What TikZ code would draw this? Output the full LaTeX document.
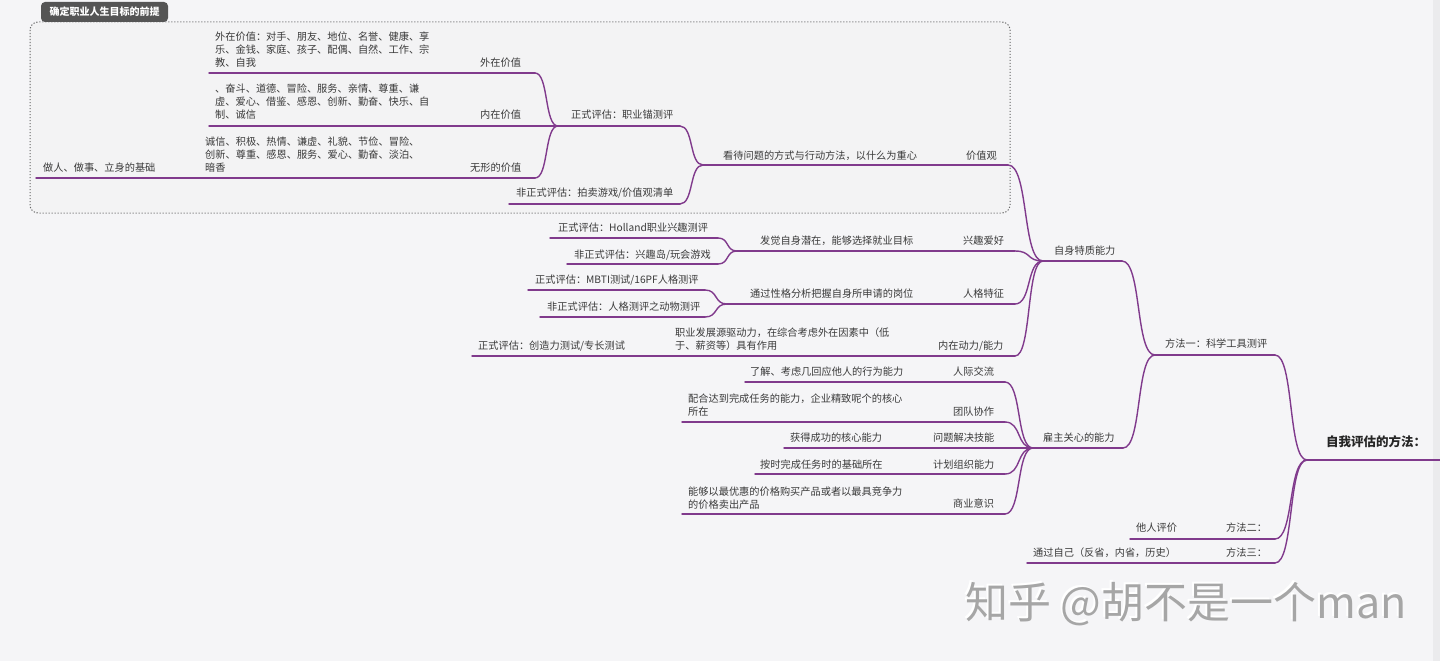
\documentclass[tikz,border=0pt]{standalone}
\usepackage{fontspec}
\setmainfont{Noto Sans CJK SC}
\usetikzlibrary{calc}
\definecolor{bg}{HTML}{F5F5F7}
\definecolor{edge}{HTML}{EBEBED}
\definecolor{ln}{RGB}{128,58,140}
\definecolor{tx}{HTML}{3A3A3A}
\definecolor{boxbg}{HTML}{F3F3F4}
\definecolor{boxln}{HTML}{666666}
\definecolor{tabc}{HTML}{555555}
\definecolor{wm}{HTML}{A6A6A6}
\tikzset{
  br/.style={draw=ln, line width=1.4pt, line cap=round},
  txt/.style={anchor=west, inner sep=0pt, text=tx, font=\fontsize{10.2}{13}\selectfont, align=left},
  roottxt/.style={anchor=west, inner sep=0pt, text=black!85, font=\fontsize{12.5}{15}\selectfont\bfseries},
}
\newcommand\link[2]{\draw[br] let \p1=(#1), \p2=(#2), \n1={0.6*(\x2-\x1)} in (\p1) .. controls +(\n1,0) and +(-\n1,0) .. (\p2);}
\begin{document}
\begin{tikzpicture}[x=1pt,y=-1pt]
\useasboundingbox (0,0) rectangle (1440,661);
\fill[bg] (0,0) rectangle (1440,661);
\fill[edge] (1433,0) rectangle (1440,661);

% group box
\draw[boxln, fill=boxbg, line width=1pt, dash pattern=on 1.2pt off 1.8pt, rounded corners=8pt] (30,22) rectangle (1010,213);
\fill[tabc, rounded corners=4pt] (41,22) -- (41,2) -- (168,2) -- (168,22) -- cycle;
\node[inner sep=0pt, text=white, font=\fontsize{10}{12}\selectfont\bfseries] (tab) at (104.5,11.5) {确定职业人生目标的前提};

% coordinates
\coordinate (root-l) at (1307,460); \coordinate (root-r) at (1440,460);
\coordinate (m1-l) at (1155,355); \coordinate (m1-r) at (1275,355);
\coordinate (m2-l) at (1130,539); \coordinate (m2-r) at (1275,539);
\coordinate (m3-l) at (1027,563); \coordinate (m3-r) at (1275,563);
\coordinate (a-l) at (1043,261); \coordinate (a-r) at (1122,261);
\coordinate (b-l) at (1033,448); \coordinate (b-r) at (1123,448);
\coordinate (jz-l) at (703,165); \coordinate (jz-r) at (1008,165);
\coordinate (f1-l) at (558,126); \coordinate (f1-r) at (680,126);
\coordinate (f2-l) at (509,204); \coordinate (f2-r) at (680,204);
\coordinate (w1-l) at (209,73); \coordinate (w1-r) at (535,73);
\coordinate (w2-l) at (209,126);
\coordinate (w3-l) at (36,178); \coordinate (w3-r) at (535,178);
\coordinate (xq-l) at (737,251); \coordinate (xq-r) at (1015,251);
\coordinate (h1-l) at (550,238); \coordinate (h1-r) at (718,238);
\coordinate (h2-l) at (567,264); \coordinate (h2-r) at (718,264);
\coordinate (rg-l) at (727,304); \coordinate (rg-r) at (1015,304);
\coordinate (p1-l) at (528,290); \coordinate (p1-r) at (705,290);
\coordinate (p2-l) at (540,317); \coordinate (p2-r) at (705,317);
\coordinate (nz-l) at (472,356); \coordinate (nz-r) at (1015,356);
\coordinate (rj-l) at (745,382); \coordinate (rj-r) at (1005,382);
\coordinate (td-l) at (682,422); \coordinate (td-r) at (1005,422);
\coordinate (wt-l) at (784,448);
\coordinate (jh-l) at (755,474); \coordinate (jh-r) at (1005,474);
\coordinate (sy-l) at (682,514); \coordinate (sy-r) at (1005,514);

% underlines
\foreach \n in {root,m1,m2,m3,a,b,jz,f1,f2,w1,w3,xq,h1,h2,rg,p1,p2,nz,rj,td,jh,sy}
  \draw[br] (\n-l) -- (\n-r);
\draw[br] (w2-l) -- (f1-l);
\draw[br] (wt-l) -- (b-l);

% connectors
\link{m1-r}{root-l}
\link{m2-r}{root-l}
\link{m3-r}{root-l}
\link{a-r}{m1-l}
\link{b-r}{m1-l}
\link{jz-r}{a-l}
\link{xq-r}{a-l}
\link{rg-r}{a-l}
\link{nz-r}{a-l}
\link{f1-r}{jz-l}
\link{f2-r}{jz-l}
\link{w1-r}{f1-l}
\link{w3-r}{f1-l}
\link{h1-r}{xq-l}
\link{h2-r}{xq-l}
\link{p1-r}{rg-l}
\link{p2-r}{rg-l}
\link{rj-r}{b-l}
\link{td-r}{b-l}
\link{jh-r}{b-l}
\link{sy-r}{b-l}

% texts
\node[roottxt] (root) at (1326,442) {自我评估的方法：};
\node[txt] (m1) at (1165,344) {方法一：科学工具测评};
\node[txt] (m2) at (1226,528) {方法二：};
\node[txt] (m2c) at (1136,528) {他人评价};
\node[txt] (m3) at (1226,553) {方法三：};
\node[txt] (m3c) at (1033,553) {通过自己（反省，内省，历史）};
\node[txt] (a) at (1054,251) {自身特质能力};
\node[txt] (b) at (1043,438) {雇主关心的能力};

\node[txt] (jz) at (966,156) {价值观};
\node[txt] (jzc) at (723,156) {看待问题的方式与行动方法，以什么为重心};
\node[txt] (f1) at (571,115) {正式评估：职业锚测评};
\node[txt] (f2) at (516,193) {非正式评估：拍卖游戏/价值观清单};
\node[txt] (w1) at (480,63) {外在价值};
\node[txt] (w1c) at (215,50) {外在价值：对手、朋友、地位、名誉、健康、享\\乐、金钱、家庭、孩子、配偶、自然、工作、宗\\教、自我};
\node[txt] (w2) at (480,115) {内在价值};
\node[txt] (w2c) at (215,102) {、奋斗、道德、冒险、服务、亲情、尊重、谦\\虚、爱心、借鉴、感恩、创新、勤奋、快乐、自\\制、诚信};
\node[txt] (w3) at (470,168) {无形的价值};
\node[txt] (w3c) at (205,155) {诚信、积极、热情、谦虚、礼貌、节俭、冒险、\\创新、尊重、感恩、服务、爱心、勤奋、淡泊、\\暗香};
\node[txt] (w3d) at (43,168) {做人、做事、立身的基础};

\node[txt] (xq) at (963,241) {兴趣爱好};
\node[txt] (xqc) at (760,241) {发觉自身潜在，能够选择就业目标};
\node[txt] (h1) at (558,228) {正式评估：Holland职业兴趣测评};
\node[txt] (h2) at (574,255) {非正式评估：兴趣岛/玩会游戏};
\node[txt] (rg) at (963,294) {人格特征};
\node[txt] (rgc) at (750,294) {通过性格分析把握自身所申请的岗位};
\node[txt] (p1) at (535,280) {正式评估：MBTI测试/16PF人格测评};
\node[txt] (p2) at (547,307) {非正式评估：人格测评之动物测评};
\node[txt] (nz) at (938,346) {内在动力/能力};
\node[txt] (nzc) at (675,339.5) {职业发展源驱动力，在综合考虑外在因素中（低\\于、薪资等）具有作用};
\node[txt] (nzd) at (478,346) {正式评估：创造力测试/专长测试};

\node[txt] (rj) at (953,372) {人际交流};
\node[txt] (rjc) at (750,372) {了解、考虑几回应他人的行为能力};
\node[txt] (td) at (953,412) {团队协作};
\node[txt] (tdc) at (688,405.5) {配合达到完成任务的能力，企业精致呢个的核心\\所在};
\node[txt] (wt) at (933,438) {问题解决技能};
\node[txt] (wtc) at (790,438) {获得成功的核心能力};
\node[txt] (jh) at (933,465) {计划组织能力};
\node[txt] (jhc) at (760,465) {按时完成任务时的基础所在};
\node[txt] (sy) at (953,504) {商业意识};
\node[txt] (syc) at (688,498) {能够以最优惠的价格购买产品或者以最具竞争力\\的价格卖出产品};

% watermark
\node[anchor=west, inner sep=0pt, text=white, font=\fontsize{43}{48}\selectfont] (wmshadow) at (963,602.5) {知乎 @胡不是一个man};
\node[anchor=west, inner sep=0pt, text=wm, font=\fontsize{43}{48}\selectfont] (wmark) at (965,604) {知乎 @胡不是一个man};
\end{tikzpicture}
\end{document}
